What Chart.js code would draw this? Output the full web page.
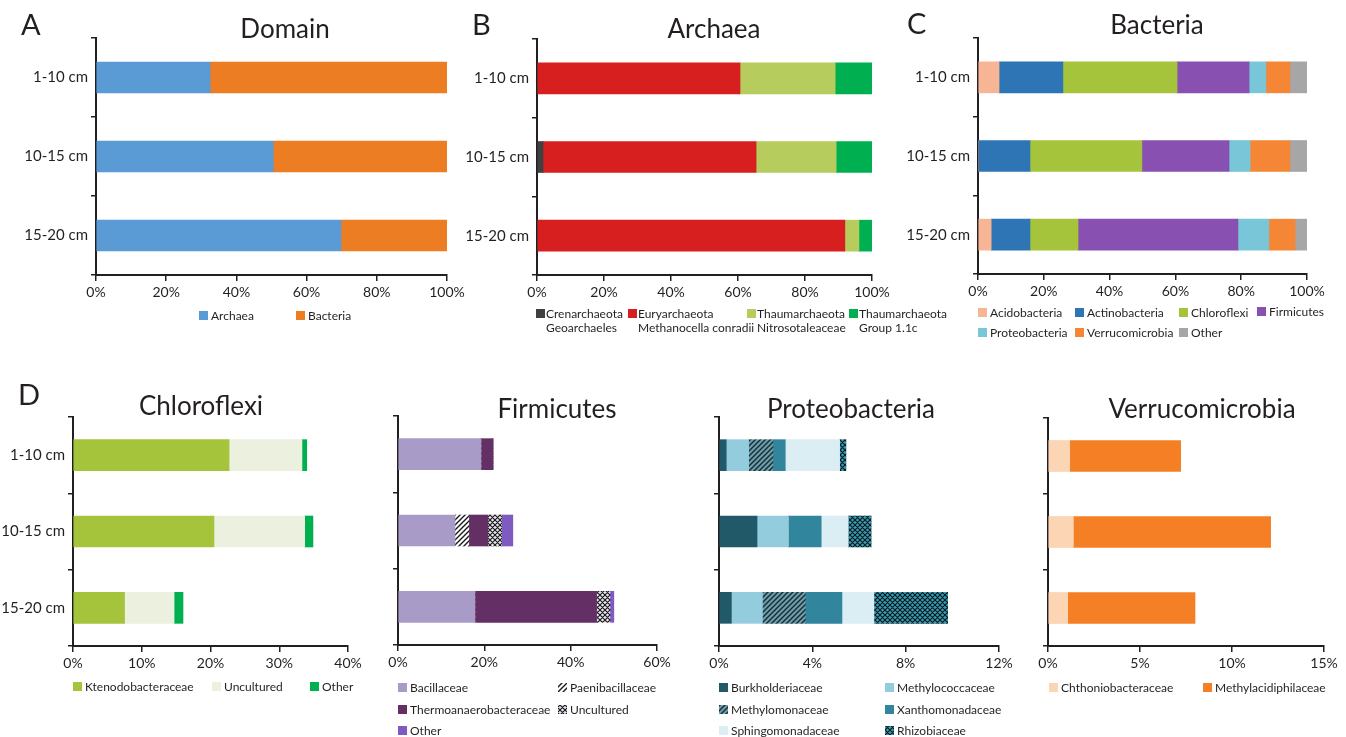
<!DOCTYPE html>
<html>
<head>
<meta charset="utf-8">
<script src="https://cdn.jsdelivr.net/npm/chart.js@4.4.1/dist/chart.umd.min.js"></script>
<style>
html, body { margin: 0; padding: 0; background: #fff; }
body { width: 1346px; height: 737px; position: relative; overflow: hidden; }
canvas { position: absolute; }
</style>
</head>
<body>
<canvas id="domainChart"></canvas>
<canvas id="archaeaChart"></canvas>
<canvas id="bacteriaChart"></canvas>
<canvas id="chloroflexiChart"></canvas>
<canvas id="firmicutesChart"></canvas>
<canvas id="proteobacteriaChart"></canvas>
<canvas id="verrucomicrobiaChart"></canvas>
<script>
var depths = ["1-10 cm", "10-15 cm", "15-20 cm"];

// A - Domain (%)
var domainArchaea = [32.5, 50.5, 69.8];
var domainBacteria = [67.5, 49.5, 30.2];

// B - Archaea (%)
var archCren = [0, 1.8, 0];
var archEury = [60.6, 63.6, 91.9];
var archNitroso = [28.4, 23.9, 4.2];
var archGroup11c = [11.0, 10.7, 3.9];

// C - Bacteria (%)
var bacAcido = [6.4, 0, 4.0];
var bacActino = [19.4, 15.8, 11.8];
var bacChloro = [34.7, 34.0, 14.6];
var bacFirm = [21.9, 26.5, 48.6];
var bacProteo = [5.1, 6.4, 9.4];
var bacVerruco = [7.3, 12.1, 8.0];
var bacOther = [5.2, 5.2, 3.6];

// D - Chloroflexi (% of bacteria)
var chlKteno = [22.7, 20.5, 7.5];
var chlUncult = [10.6, 13.2, 7.2];
var chlOther = [0.7, 1.2, 1.3];

// D - Firmicutes
var firBacill = [19.2, 13.2, 17.8];
var firPaeni = [0, 3.2, 0];
var firThermo = [2.8, 4.4, 28.2];
var firUncult = [0, 3.2, 3.1];
var firOther = [0, 2.6, 0.9];

// D - Proteobacteria
var proBurk = [0.31, 1.63, 0.53];
var proMcocc = [0.96, 1.35, 1.33];
var proMmon = [1.04, 0, 1.84];
var proXan = [0.53, 1.40, 1.57];
var proSph = [2.33, 1.16, 1.37];
var proRhiz = [0.27, 0.98, 3.16];

// D - Verrucomicrobia
var verChth = [1.18, 1.38, 1.07];
var verMacid = [6.03, 10.72, 6.92];

var ink = "#231f20";
var fontFamily = "Lato";

function makePattern(bg, fg, kind) {
    var size = 5;
    var c = document.createElement("canvas");
    c.width = size;
    c.height = size;
    var g = c.getContext("2d");
    g.fillStyle = bg;
    g.fillRect(0, 0, size, size);
    g.strokeStyle = fg;
    g.lineWidth = kind === "cross" ? 1.15 : 1.4;
    g.beginPath();
    g.moveTo(-1, size + 1); g.lineTo(size + 1, -1);
    g.moveTo(-1, 1); g.lineTo(1, -1);
    g.moveTo(size - 1, size + 1); g.lineTo(size + 1, size - 1);
    if (kind === "cross") {
        g.moveTo(-1, -1); g.lineTo(size + 1, size + 1);
        g.moveTo(size - 1, -1); g.lineTo(size + 1, 1);
        g.moveTo(-1, size - 1); g.lineTo(1, size + 1);
    }
    g.stroke();
    return g.createPattern(c, "repeat");
}

var panelDecor = {
    id: "panelDecor",
    afterDraw: function (chart, args, opts) {
        var ctx = chart.ctx;
        var ox = opts.origin[0], oy = opts.origin[1];
        ctx.save();
        ctx.fillStyle = ink;
        ctx.textBaseline = "alphabetic";
        if (opts.letter) {
            ctx.font = "29px " + fontFamily;
            ctx.textAlign = "left";
            ctx.fillText(opts.letter[0], opts.letter[1] - ox, opts.letter[2] - oy);
        }
        ctx.font = "26px " + fontFamily;
        ctx.textAlign = "center";
        ctx.fillText(opts.title[0], opts.title[1] - ox, opts.title[2] - oy);
        // legend, one fixed slot per dataset
        ctx.font = "12px " + fontFamily;
        ctx.textAlign = "left";
        ctx.textBaseline = "middle";
        chart.data.datasets.forEach(function (ds, i) {
            var pos = opts.legend[i];
            var bx = pos[0] - ox, by = pos[1] - oy;
            ctx.fillStyle = ds.backgroundColor;
            ctx.fillRect(bx, by - 5, 9, 9);
            ctx.fillStyle = ink;
            ds.label.split("\n").forEach(function (line, k) {
                ctx.fillText(line, bx + (opts.textGap || 12), by + k * 14);
            });
        });
        ctx.restore();
    }
};

function ds(label, data, color) {
    return { label: label, data: data, backgroundColor: color, borderWidth: 0, barThickness: 31 };
}

function buildChart(id, rect, area, datasets, xMax, xStep, showY, decor) {
    var el = document.getElementById(id);
    el.width = rect[2];
    el.height = rect[3];
    el.style.left = rect[0] + "px";
    el.style.top = rect[1] + "px";
    var yWidth = area[0] - rect[0];
    var xHeight = 28;
    decor.origin = [rect[0], rect[1]];
    return new Chart(el, {
        type: "bar",
        data: { labels: depths, datasets: datasets },
        options: {
            indexAxis: "y",
            responsive: false,
            animation: false,
            devicePixelRatio: 1,
            events: [],
            layout: {
                padding: {
                    left: 0,
                    top: area[1] - rect[1],
                    right: rect[0] + rect[2] - area[2],
                    bottom: rect[1] + rect[3] - area[3] - xHeight,
                },
            },
            scales: {
                x: {
                    type: "linear",
                    stacked: true,
                    min: 0,
                    max: xMax,
                    ticks: {
                        stepSize: xStep,
                        callback: function (v) { return v + "%"; },
                        font: { family: fontFamily, size: 14 },
                        color: ink,
                        padding: 3,
                        maxRotation: 0,
                        autoSkip: false,
                    },
                    grid: { drawOnChartArea: false, drawTicks: true, tickLength: 6, color: ink, lineWidth: 1.5 },
                    border: { color: ink, width: 2 },
                    afterFit: function (s) { s.height = xHeight; },
                },
                y: {
                    stacked: true,
                    offset: true,
                    ticks: { display: showY, font: { family: fontFamily, size: 15 }, color: ink, padding: 3 },
                    grid: { offset: true, drawOnChartArea: false, tickLength: 5, color: ink, lineWidth: 1.5 },
                    border: { color: ink, width: 2 },
                    afterFit: function (s) { s.width = yWidth; },
                },
            },
            plugins: {
                legend: { display: false },
                tooltip: { enabled: false },
                panelDecor: decor,
            },
        },
        plugins: [panelDecor],
    });
}

buildChart("domainChart", [0, 0, 475, 345], [96, 38, 447, 275], [
    ds("Archaea", domainArchaea, "#5b9bd5"),
    ds("Bacteria", domainBacteria, "#ed7d23"),
], 100, 20, true, {
    letter: ["A", 21, 35], title: ["Domain", 285, 38],
    legend: [[199, 316], [296, 316]],
});

buildChart("archaeaChart", [460, 0, 510, 345], [537, 39, 872, 275], [
    ds("Crenarchaeota\nGeoarchaeles", archCren, "#404040"),
    ds("Euryarchaeota\nMethanocella conradii", archEury, "#d71f1f"),
    ds("Thaumarchaeota\nNitrosotaleaceae", archNitroso, "#b6cc5c"),
    ds("Thaumarchaeota\nGroup 1.1c", archGroup11c, "#00b050"),
], 100, 20, true, {
    letter: ["B", 472, 35], title: ["Archaea", 714, 38], textGap: 10,
    legend: [[536, 314], [628, 314], [747, 314], [849, 314]],
});

buildChart("bacteriaChart", [900, 0, 446, 345], [978, 38, 1307, 274], [
    ds("Acidobacteria", bacAcido, "#f8b595"),
    ds("Actinobacteria", bacActino, "#2e75b6"),
    ds("Chloroflexi", bacChloro, "#a5c43c"),
    ds("Firmicutes", bacFirm, "#8850b0"),
    ds("Proteobacteria", bacProteo, "#78c6d8"),
    ds("Verrucomicrobia", bacVerruco, "#f58635"),
    ds("Other", bacOther, "#a6a6a6"),
], 100, 20, true, {
    letter: ["C", 907, 34], title: ["Bacteria", 1157, 34],
    legend: [[978, 313], [1075, 313], [1179, 313], [1257, 312], [978, 333], [1075, 333], [1179, 333]],
});

buildChart("chloroflexiChart", [0, 370, 380, 367], [73, 417, 348, 646], [
    ds("Ktenodobacteraceae", chlKteno, "#a5c43c"),
    ds("Uncultured", chlUncult, "#ebf1de"),
    ds("Other", chlOther, "#00b050"),
], 40, 10, true, {
    letter: ["D", 18, 405], title: ["Chloroflexi", 201, 415],
    legend: [[73, 687], [212, 687], [310, 687]],
});

buildChart("firmicutesChart", [370, 370, 320, 367], [398, 416, 657, 645], [
    ds("Bacillaceae", firBacill, "#a99bc7"),
    ds("Paenibacillaceae", firPaeni, makePattern("#ffffff", "#1a1a1a", "diag")),
    ds("Thermoanaerobacteraceae", firThermo, "#642f64"),
    ds("Uncultured", firUncult, makePattern("#e8e4f0", "#1a1a1a", "cross")),
    ds("Other", firOther, "#7f5bc1"),
], 60, 20, false, {
    title: ["Firmicutes", 557, 418],
    legend: [[398, 688], [558, 688], [398, 710], [558, 710], [398, 731]],
});

buildChart("proteobacteriaChart", [690, 370, 330, 367], [719, 417, 999, 646], [
    ds("Burkholderiaceae", proBurk, "#215968"),
    ds("Methylococcaceae", proMcocc, "#93cddd"),
    ds("Methylomonaceae", proMmon, makePattern("#6b9fae", "#1a2a30", "diag")),
    ds("Xanthomonadaceae", proXan, "#31859c"),
    ds("Sphingomonadaceae", proSph, "#dbeef4"),
    ds("Rhizobiaceae", proRhiz, makePattern("#31a0b8", "#10181c", "cross")),
], 12, 4, false, {
    title: ["Proteobacteria", 851, 418],
    legend: [[719, 688], [885, 688], [719, 710], [885, 710], [719, 731], [885, 731]],
});

buildChart("verrucomicrobiaChart", [1010, 370, 336, 367], [1048, 418, 1324, 646], [
    ds("Chthoniobacteraceae", verChth, "#fcd5b5"),
    ds("Methylacidiphilaceae", verMacid, "#f47f24"),
], 15, 5, false, {
    title: ["Verrucomicrobia", 1202, 418],
    legend: [[1049, 688], [1203, 688]],
});
</script>
</body>
</html>
